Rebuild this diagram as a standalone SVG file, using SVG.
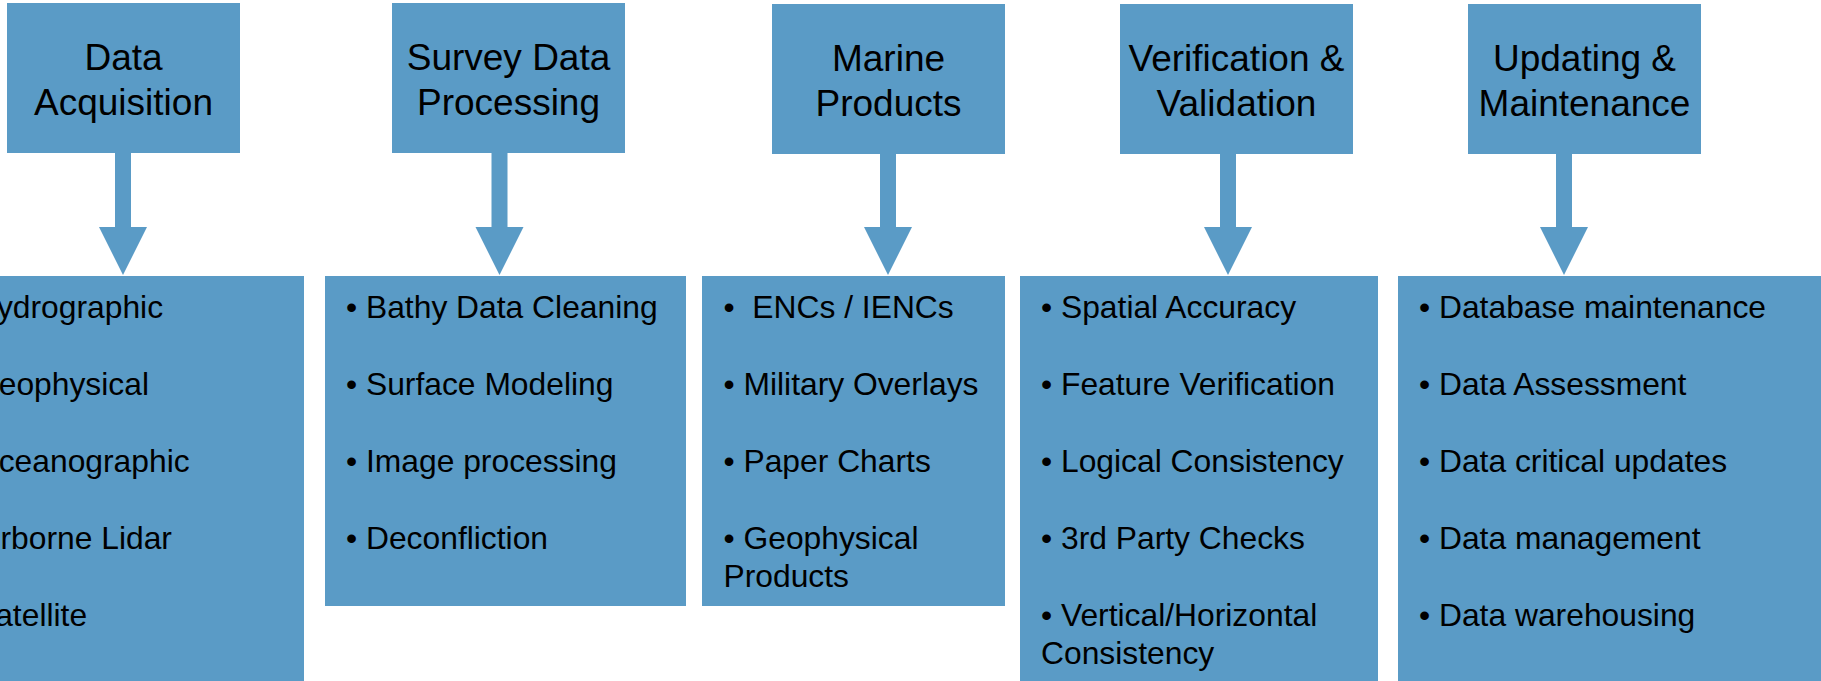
<svg xmlns="http://www.w3.org/2000/svg" width="1821" height="681" viewBox="0 0 1821 681">
<style>
.box{fill:#5A9BC6}
.arrow{fill:#5A9BC6}
.title{font-family:"Liberation Sans",Arial,sans-serif;font-size:37px;fill:#000;text-anchor:middle}
.item{font-family:"Liberation Sans",Arial,sans-serif;font-size:31.8px;fill:#000}
</style>
<rect width="1821" height="681" fill="#fff"/>
<g id="connectors">
<polygon class="arrow" points="115,153 131,153 131,227 147,227 123,275 99,227 115,227"/>
<polygon class="arrow" points="491.5,153 507.5,153 507.5,227 523.5,227 499.5,275 475.5,227 491.5,227"/>
<polygon class="arrow" points="880,154 896,154 896,227 912,227 888,275 864,227 880,227"/>
<polygon class="arrow" points="1220,154 1236,154 1236,227 1252,227 1228,275 1204,227 1220,227"/>
<polygon class="arrow" points="1556,154 1572,154 1572,227 1588,227 1564,275 1540,227 1556,227"/>
</g>
<g id="node-acquisition">
<rect class="box" x="7" y="3" width="233" height="150"/>
<text class="title" x="123.5" y="70">Data</text>
<text class="title" x="123.5" y="115">Acquisition</text>
</g>
<g id="node-processing">
<rect class="box" x="392" y="3" width="233" height="150"/>
<text class="title" x="508.5" y="70">Survey Data</text>
<text class="title" x="508.5" y="115">Processing</text>
</g>
<g id="node-products">
<rect class="box" x="772" y="4" width="233" height="150"/>
<text class="title" x="888.5" y="71">Marine</text>
<text class="title" x="888.5" y="116">Products</text>
</g>
<g id="node-verification">
<rect class="box" x="1120" y="4" width="233" height="150"/>
<text class="title" x="1236.5" y="71">Verification &amp;</text>
<text class="title" x="1236.5" y="116">Validation</text>
</g>
<g id="node-updating">
<rect class="box" x="1468" y="4" width="233" height="150"/>
<text class="title" x="1584.5" y="71">Updating &amp;</text>
<text class="title" x="1584.5" y="116">Maintenance</text>
</g>
<g id="list-acquisition">
<rect class="box" x="-63" y="276" width="367" height="420"/>
<text class="item" x="-46" y="318">• Hydrographic</text>
<text class="item" x="-46" y="395">• Geophysical</text>
<text class="item" x="-46" y="472">• Oceanographic</text>
<text class="item" x="-46" y="549">• Airborne Lidar</text>
<text class="item" x="-46" y="626">• Satellite</text>
</g>
<g id="list-processing">
<rect class="box" x="325" y="276" width="361" height="330"/>
<text class="item" x="346" y="318">• Bathy Data Cleaning</text>
<text class="item" x="346" y="395">• Surface Modeling</text>
<text class="item" x="346" y="472">• Image processing</text>
<text class="item" x="346" y="549">• Deconfliction</text>
</g>
<g id="list-products">
<rect class="box" x="702" y="276" width="303" height="330"/>
<text class="item" x="723.5" y="318" xml:space="preserve">•  ENCs / IENCs</text>
<text class="item" x="723.5" y="395">• Military Overlays</text>
<text class="item" x="723.5" y="472">• Paper Charts</text>
<text class="item" x="723.5" y="549">• Geophysical</text>
<text class="item" x="723.5" y="587">Products</text>
</g>
<g id="list-verification">
<rect class="box" x="1020" y="276" width="358" height="420"/>
<text class="item" x="1041" y="318">• Spatial Accuracy</text>
<text class="item" x="1041" y="395">• Feature Verification</text>
<text class="item" x="1041" y="472">• Logical Consistency</text>
<text class="item" x="1041" y="549">• 3rd Party Checks</text>
<text class="item" x="1041" y="626">• Vertical/Horizontal</text>
<text class="item" x="1041" y="664">Consistency</text>
</g>
<g id="list-updating">
<rect class="box" x="1398" y="276" width="440" height="420"/>
<text class="item" x="1419" y="318">• Database maintenance</text>
<text class="item" x="1419" y="395">• Data Assessment</text>
<text class="item" x="1419" y="472">• Data critical updates</text>
<text class="item" x="1419" y="549">• Data management</text>
<text class="item" x="1419" y="626">• Data warehousing</text>
</g>
</svg>
